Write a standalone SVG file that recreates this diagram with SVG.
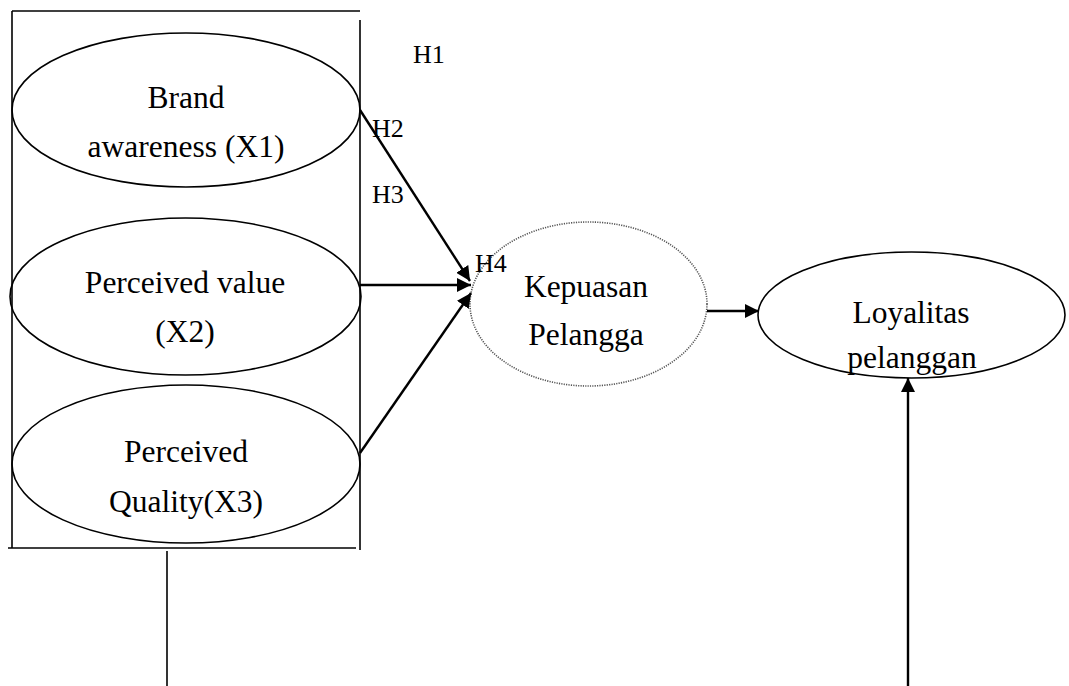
<svg xmlns="http://www.w3.org/2000/svg" width="1069" height="686" viewBox="0 0 1069 686">
<style>
.t{font-family:"Liberation Serif","Times New Roman",serif;font-size:31.5px;fill:#000;text-anchor:middle}
.h{font-family:"Liberation Serif","Times New Roman",serif;font-size:26px;fill:#000}
.e{fill:none;stroke:#000;stroke-width:1.6}
.ln{stroke:#000;stroke-width:1.6;fill:none}
.ar{stroke:#000;stroke-width:2.4;fill:none;marker-end:url(#ah)}
</style>
<defs>
<marker id="ah" viewBox="0 0 10 10" refX="10" refY="5" markerWidth="6" markerHeight="6" markerUnits="strokeWidth" orient="auto">
<path d="M0,0 L10,5 L0,10 z" fill="#000"/>
</marker>
</defs>
<rect width="1069" height="686" fill="#fff"/>
<g id="frame">
<line class="ln" x1="12" y1="11" x2="360" y2="11"/>
<line class="ln" x1="12" y1="11" x2="12" y2="548"/>
<line class="ln" x1="360" y1="20" x2="360" y2="550"/>
<line class="ln" x1="8" y1="548" x2="356" y2="548"/>
</g>
<g id="x1">
<ellipse class="e" cx="186" cy="110" rx="174" ry="77"/>
<text class="t" x="186" y="108">Brand</text>
<text class="t" x="186" y="157">awareness (X1)</text>
</g>
<g id="x2">
<ellipse class="e" cx="185.5" cy="296.5" rx="175.5" ry="78.5"/>
<text class="t" x="185" y="293">Perceived value</text>
<text class="t" x="185" y="342">(X2)</text>
</g>
<g id="x3">
<ellipse class="e" cx="186" cy="464" rx="174" ry="79"/>
<text class="t" x="186" y="462">Perceived</text>
<text class="t" x="186" y="512">Quality(X3)</text>
</g>
<g id="kepuasan">
<ellipse cx="588.5" cy="304" rx="118.5" ry="82" fill="none" stroke="#555" stroke-width="1.6" stroke-dasharray="1.2 1.2"/>
<text class="t" x="586" y="297">Kepuasan</text>
<text class="t" x="586" y="345">Pelangga</text>
</g>
<g id="loyalitas">
<ellipse class="e" cx="911.5" cy="315" rx="153.5" ry="63"/>
<text class="t" x="911" y="323">Loyalitas</text>
<text class="t" x="912" y="368">pelanggan</text>
</g>
<g id="connectors">
<line class="ar" x1="360" y1="110" x2="470" y2="281"/>
<line class="ar" x1="360" y1="285" x2="471" y2="285"/>
<line class="ar" x1="360" y1="453" x2="471" y2="293"/>
<line class="ar" x1="707" y1="311" x2="759" y2="311"/>
<line class="ar" x1="908" y1="686" x2="908" y2="378"/>
<line class="ln" x1="167" y1="551" x2="167" y2="686"/>
</g>
<g id="labels">
<text class="h" x="413" y="63">H1</text>
<text class="h" x="372" y="137">H2</text>
<text class="h" x="372" y="203">H3</text>
<text class="h" x="475" y="272">H4</text>
</g>
</svg>
